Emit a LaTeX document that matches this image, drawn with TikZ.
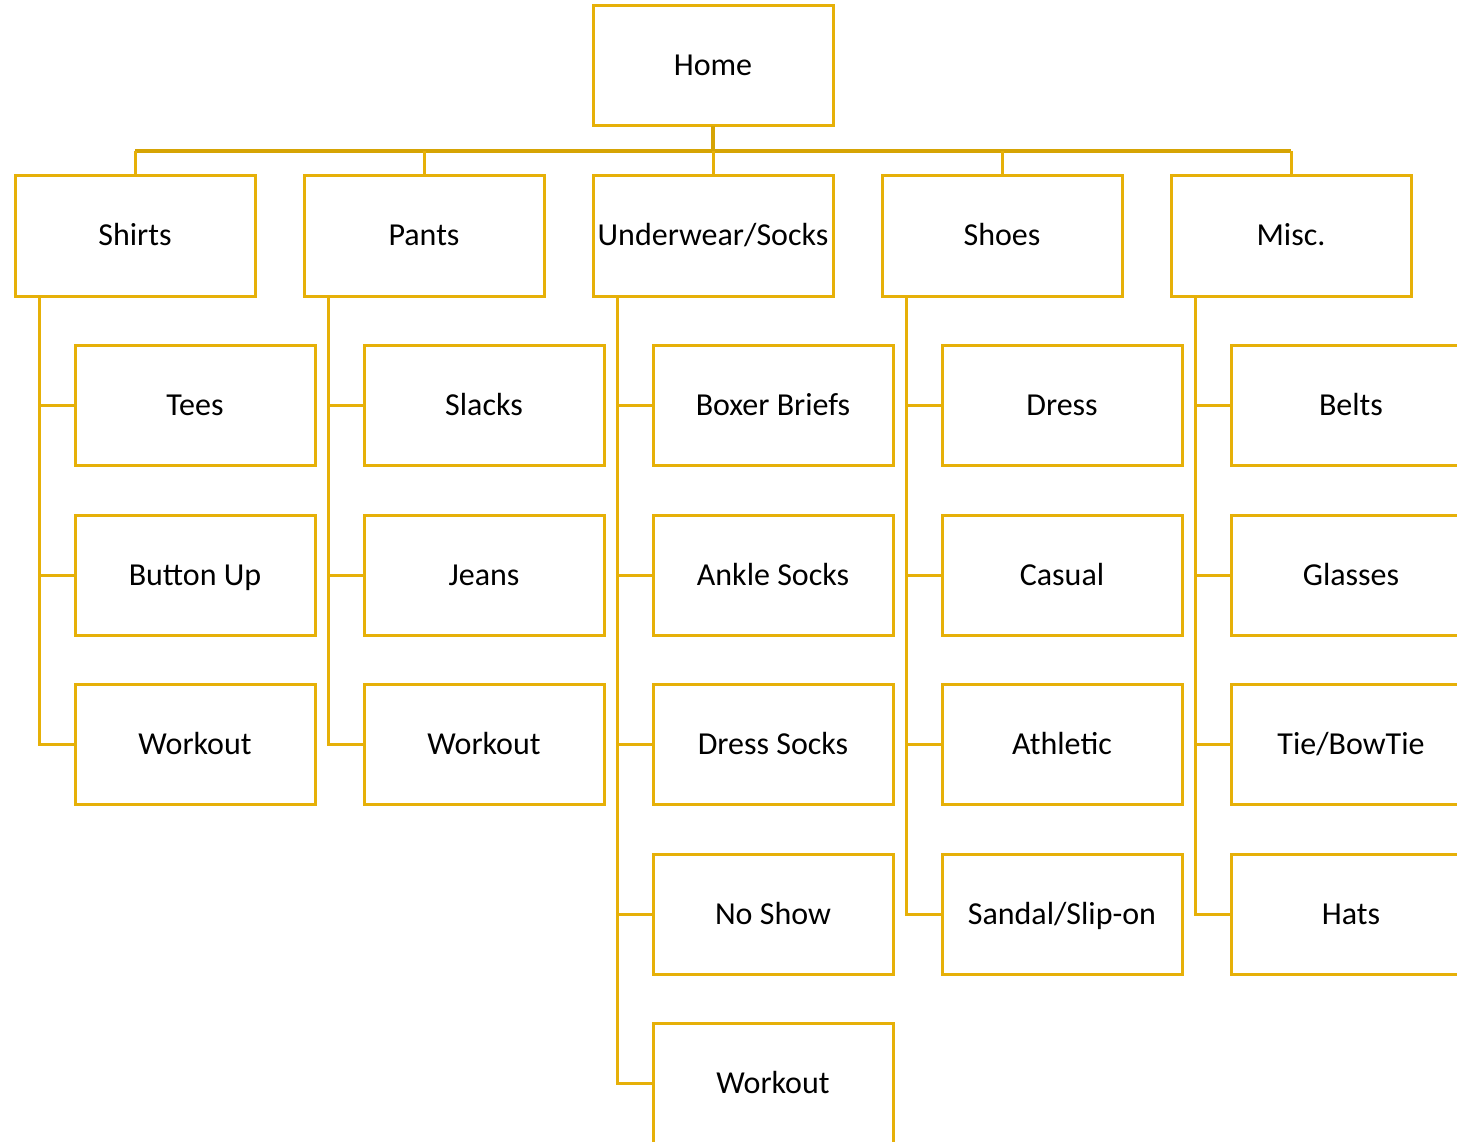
\documentclass[tikz,border=0pt]{standalone}
\usepackage{fontspec}
\setmainfont{Carlito}
\definecolor{gold}{RGB}{230,176,8}
\definecolor{busgold}{RGB}{214,164,4}
\begin{document}
\begin{tikzpicture}[x=1pt,y=-1pt,
  box/.style={draw=gold,line width=3pt,minimum width=240pt,minimum height=120pt,inner sep=0pt,outer sep=0pt,text height=22pt,text depth=2pt,font=\fontsize{32}{38}\selectfont,text=black,fill=white},
  conn/.style={draw=gold,line width=3pt},
  bus/.style={draw=busgold,line width=3.5pt}]
\useasboundingbox (0,0) rectangle (1457,1142);
\clip (0,0) rectangle (1457,1142);
\coordinate (busL) at (135,151);
\coordinate (busR) at (1291,151);
% Level 0
\node[box] (home) at (713,66) {Home};
% Level 1
\node[box] (shirts) at (135,236) {Shirts};
\node[box] (pants) at (424,236) {Pants};
\node[box] (under) at (713,236) {Underwear/Socks};
\node[box] (shoes) at (1002,236) {Shoes};
\node[box] (misc) at (1291,236) {Misc.};
% Level 2
\node[box] (tees) at (195,405) {Tees};
\node[box] (button) at (195,575) {Button Up};
\node[box] (shwork) at (195,744) {Workout};
\node[box] (slacks) at (484,405) {Slacks};
\node[box] (jeans) at (484,575) {Jeans};
\node[box] (pawork) at (484,744) {Workout};
\node[box] (boxer) at (773,405) {Boxer Briefs};
\node[box] (ankle) at (773,575) {Ankle Socks};
\node[box] (dsocks) at (773,744) {Dress Socks};
\node[box] (noshow) at (773,914) {No Show};
\node[box] (uwork) at (773,1083) {Workout};
\node[box] (dress) at (1062,405) {Dress};
\node[box] (casual) at (1062,575) {Casual};
\node[box] (athletic) at (1062,744) {Athletic};
\node[box] (sandal) at (1062,914) {Sandal/Slip-on};
\node[box] (belts) at (1351,405) {Belts};
\node[box] (glasses) at (1351,575) {Glasses};
\node[box] (tie) at (1351,744) {Tie/BowTie};
\node[box] (hats) at (1351,914) {Hats};
% bus
\draw[bus] (home.south) -- (home.south |- busL);
\draw[bus] (busL) -- (busR);
\foreach \n in {shirts,pants,under,shoes,misc}
  \draw[conn] (\n.north) -- (\n.north |- busL);
% child connectors
\foreach \p/\c in {shirts/tees,shirts/button,shirts/shwork,
                   pants/slacks,pants/jeans,pants/pawork,
                   under/boxer,under/ankle,under/dsocks,under/noshow,under/uwork,
                   shoes/dress,shoes/casual,shoes/athletic,shoes/sandal,
                   misc/belts,misc/glasses,misc/tie,misc/hats}
  \draw[conn] ([xshift=24pt]\p.south west) |- (\c.west);
\end{tikzpicture}
\end{document}
